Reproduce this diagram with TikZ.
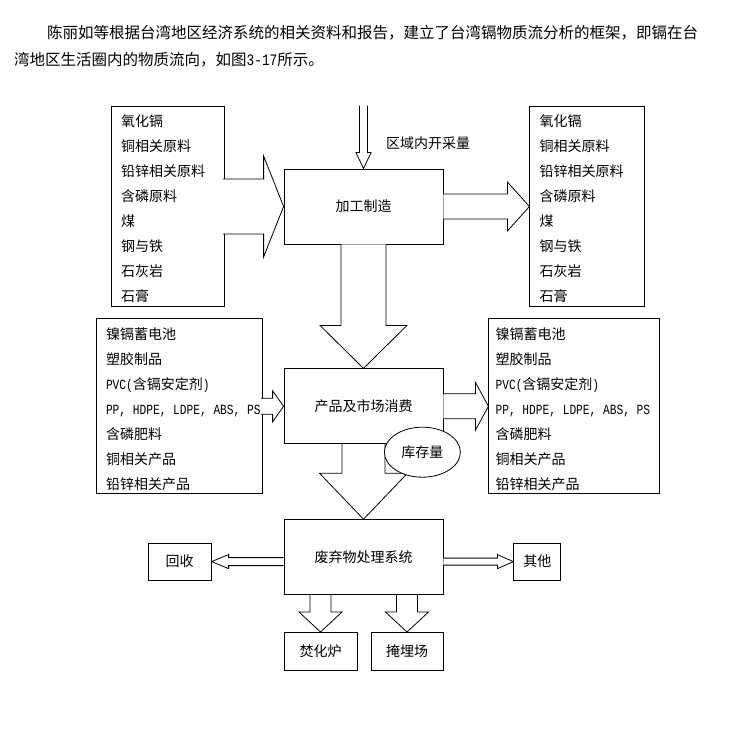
\documentclass[tikz,border=0pt]{standalone}
\usepackage{fontspec}
\setmainfont{Noto Sans CJK SC}
\newfontfamily\latmono[FakeStretch=0.8]{Liberation Mono}
\usetikzlibrary{positioning,calc,shapes.geometric}

\newcommand\mono[1]{{\latmono\fontsize{14pt}{25pt}\selectfont #1}}
% block arrows: start, tip, shaft half width, head half width, head length
\newcommand\flowright[5]{%
  \filldraw[blockarr] let \p1=(#1),\p2=(#2) in
    (\x1,\y1+#3) -- ({\x2-(#5)},\y1+#3) -- ({\x2-(#5)},\y1+#4) -- (\x2,\y1)
    -- ({\x2-(#5)},\y1-#4) -- ({\x2-(#5)},\y1-#3) -- (\x1,\y1-#3);}
\newcommand\flowdown[5]{%
  \filldraw[blockarr] let \p1=(#1),\p2=(#2) in
    (\x1+#3,\y1) -- (\x1+#3,\y2+#5) -- (\x1+#4,\y2+#5) -- (\x1,\y2)
    -- (\x1-#4,\y2+#5) -- (\x1-#3,\y2+#5) -- (\x1-#3,\y1);}

\tikzset{
  box/.style={draw,line width=0.8pt,fill=white,minimum width=159pt,
              minimum height=75pt,inner sep=0pt,
              font=\fontsize{14pt}{17pt}\selectfont},
  smallbox/.style={box,minimum height=37pt},
  listbox/.style={draw,line width=0.8pt,inner sep=0pt},
  listtxt/.style={anchor=west,inner sep=0pt,align=left,
                  font=\fontsize{14pt}{25pt}\selectfont},
  stockell/.style={ellipse,draw,line width=0.8pt,fill=white,
                   minimum width=76pt,minimum height=50pt,inner sep=0pt,
                   font=\fontsize{14pt}{17pt}\selectfont},
  blockarr/.style={draw=black,fill=white,line width=0.8pt,line join=miter},
  headtxt/.style={anchor=base west,inner sep=0pt,
                  font=\fontsize{15.5pt}{27pt}\selectfont},
}

\begin{document}
\begin{tikzpicture}[x=1pt,y=-1pt]
  \useasboundingbox (0,0) rectangle (730,735);
  % heading text
  \node[headtxt] (head1) at (47,39) {陈丽如等根据台湾地区经济系统的相关资料和报告，建立了台湾镉物质流分析的框架，即镉在台};
  \node[headtxt] (head2) at (14,66) {湾地区生活圈内的物质流向，如图{\latmono\fontsize{16pt}{27pt}\selectfont 3-17}所示。};

  % main chain
  \node[box] (make) at (363.5,206.5) {加工制造};
  \node[box,below=124pt of make] (market) {产品及市场消费};
  \node[box,below=75pt of market] (waste) {废弃物处理系统};

  % side lists
  \node[listbox,minimum width=113pt,minimum height=200pt,left=59pt of make] (rawin) {};
  \node[listbox,minimum width=115pt,minimum height=200pt,right=86pt of make] (rawout) {};
  \node[listbox,minimum width=166pt,minimum height=175pt,left=21pt of market] (prodin) {};
  \node[listbox,minimum width=171pt,minimum height=175pt,right=45pt of market] (prodout) {};

  % waste outlets
  \node[smallbox,minimum width=63pt,left=72pt of waste,yshift=-4.5pt] (recycle) {回收};
  \node[smallbox,minimum width=47pt,right=70pt of waste,yshift=-4.5pt] (other) {其他};
  \node[smallbox,minimum width=73pt,minimum height=38pt,
        below right=37pt and 0pt of waste.south west] (burn) {焚化炉};
  \node[smallbox,minimum width=72pt,minimum height=38pt,
        below left=37pt and 0pt of waste.south east] (landfill) {掩埋场};

  % local mining
  \coordinate (minetop) at ([yshift=63pt]make.north);
  \node[anchor=west,inner sep=0pt,font=\fontsize{14pt}{17pt}\selectfont] (minelbl) at (386,143) {区域内开采量};

  % flows
  \flowdown{minetop}{make.north}{4pt}{7.5pt}{16pt}
  \flowright{$(rawin.east |- make.west)+(-1.5,0)$}{make.west}{27.5pt}{50.5pt}{20pt}
  \flowright{make.east}{rawout.west}{12.5pt}{24.5pt}{22pt}
  \flowdown{make.south}{market.north}{22.5pt}{43.5pt}{43pt}
  \flowright{$(prodin.east |- market.west)+(-1.5,0)$}{market.west}{8pt}{15.5pt}{11pt}
  \flowright{market.east}{prodout.west}{12.5pt}{24pt}{13pt}
  \flowdown{market.south}{waste.north}{21.5pt}{44pt}{46pt}
  \flowright{waste.west |- recycle.east}{recycle.east}{4pt}{7pt}{-17pt}
  \flowright{waste.east |- other.west}{other.west}{3.5pt}{7pt}{16pt}
  \flowdown{burn.north |- waste.south}{burn.north}{10.5pt}{21.5pt}{20pt}
  \flowdown{landfill.north |- waste.south}{landfill.north}{10.5pt}{21.5pt}{20pt}

  \node[stockell] (stock) at ([xshift=-21pt,yshift=-8pt]market.south east) {库存量};

  % list contents
  \node[listtxt] (rawintxt) at ([xshift=10pt,yshift=-2pt]rawin.west)
    {氧化镉\\铜相关原料\\铅锌相关原料\\含磷原料\\煤\\钢与铁\\石灰岩\\石膏};
  \node[listtxt] (rawouttxt) at ([xshift=10pt,yshift=-2pt]rawout.west)
    {氧化镉\\铜相关原料\\铅锌相关原料\\含磷原料\\煤\\钢与铁\\石灰岩\\石膏};
  \node[listtxt] (prodintxt) at ([xshift=10pt,yshift=-2.5pt]prodin.west)
    {镍镉蓄电池\\塑胶制品\\\mono{PVC(}含镉安定剂\mono{)}\\\mono{PP, HDPE, LDPE, ABS, PS}\\含磷肥料\\铜相关产品\\铅锌相关产品};
  \node[listtxt] (prodouttxt) at ([xshift=7pt,yshift=-2.5pt]prodout.west)
    {镍镉蓄电池\\塑胶制品\\\mono{PVC(}含镉安定剂\mono{)}\\\mono{PP, HDPE, LDPE, ABS, PS}\\含磷肥料\\铜相关产品\\铅锌相关产品};
\end{tikzpicture}
\end{document}
